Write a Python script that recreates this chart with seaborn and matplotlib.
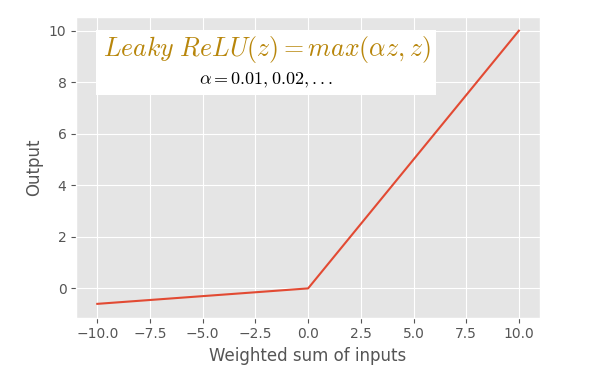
import numpy as np
import pandas as pd
import matplotlib
matplotlib.use("Agg")
import matplotlib.pyplot as plt
from matplotlib.patches import Rectangle
import seaborn as sns

# Leaky ReLU curve
weighted_sum = [-10.0, 0.0, 10.0]
output = [-0.6, 0.0, 10.0]

plt.style.use("ggplot")
plt.rcParams["mathtext.fontset"] = "cm"
df = pd.DataFrame({"x": weighted_sum, "y": output})

fig, ax = plt.subplots(figsize=(6, 3.78), dpi=100)
sns.lineplot(data=df, x="x", y="y", ax=ax, color="#E24A33")

ax.set_xlabel("Weighted sum of inputs")
ax.set_ylabel("Output")
ax.set_xticks(np.arange(-10, 10.1, 2.5))
ax.set_yticks([0, 2, 4, 6, 8, 10])

# white label box behind the formula
ax.add_patch(Rectangle((0.043, 0.741), 0.733, 0.216, transform=ax.transAxes,
                       facecolor="white", edgecolor="none", zorder=3))
ax.text(0.41, 0.893, r"$Leaky\ ReLU(z) = max(\alpha z, z)$", transform=ax.transAxes,
        ha="center", va="center", fontsize=18.6, color="#B8860B", zorder=4)
ax.text(0.41, 0.79, r"$\alpha = 0.01, 0.02, ...$", transform=ax.transAxes,
        ha="center", va="center", fontsize=13, color="black", zorder=4)

fig.subplots_adjust(left=0.127, right=0.9, top=0.955, bottom=0.16)
fig.savefig("out.png", dpi=100)
